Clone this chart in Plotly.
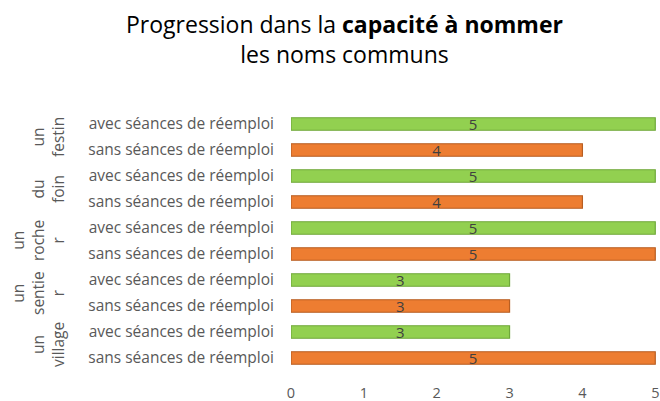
import plotly.graph_objects as go

groups = ["un<br>festin", "du<br>foin", "un<br>roche<br>r", "un<br>sentie<br>r", "un<br>village"]
series_names = ["avec séances de réemploi", "sans séances de réemploi"]
avec = [5, 5, 5, 3, 3]
sans = [4, 4, 5, 3, 5]
x_ticks = [0, 1, 2, 3, 4, 5]

green = "#92D050"
green_dark = "#6FA83A"
orange = "#ED7D31"
orange_dark = "#B85E22"
gray = "#595959"
font_family = "Open Sans"

W, H = 660, 401
ML, MR, MT, MB = 291, 4, 111, 30
PW, PH = W - ML - MR, H - MT - MB

n = len(groups)
pos_avec = [2 * i for i in range(n)]
pos_sans = [2 * i + 1 for i in range(n)]

fig = go.Figure()
for pos, vals, name, col, dark in [
    (pos_avec, avec, series_names[0], green, green_dark),
    (pos_sans, sans, series_names[1], orange, orange_dark),
]:
    fig.add_trace(go.Bar(
        y=pos, x=vals, orientation="h", name=name,
        marker=dict(color=col, line=dict(color=dark, width=1.2)),
        width=0.48, text=vals, textposition="inside", insidetextanchor="middle",
        textangle=0, constraintext="none", cliponaxis=False,
        textfont=dict(color="#404040", size=15, family=font_family),
        hoverinfo="x",
    ))

tickvals = []
ticktext = []
for i in range(n):
    tickvals += [pos_avec[i], pos_sans[i]]
    ticktext += series_names

for i, g in enumerate(groups):
    fig.add_annotation(
        x=(71 - ML) / PW, xref="paper", xanchor="right",
        y=(pos_avec[i] + pos_sans[i]) / 2, yref="y", yanchor="middle",
        text=g, textangle=-90, showarrow=False,
        font=dict(size=15.5, color=gray, family=font_family),
    )

fig.add_annotation(
    text="Progression dans la <b>capacité à nommer</b><br>les noms communs",
    x=(344 - ML) / PW, xref="paper", xanchor="center",
    y=(H - 39 - MB) / PH, yref="paper", yanchor="middle",
    showarrow=False, align="center",
    font=dict(size=23, color="black", family=font_family),
)

fig.update_layout(
    width=W, height=H,
    margin=dict(l=ML, r=MR, t=MT, b=MB, autoexpand=False),
    paper_bgcolor="white", plot_bgcolor="white",
    showlegend=False, barmode="overlay",
    font=dict(family=font_family, color=gray),
    uniformtext=dict(minsize=8, mode="show"),
)
fig.update_xaxes(
    range=[0, 5.01], tickvals=x_ticks, showgrid=False, zeroline=False,
    showline=False, ticks="outside", ticklen=9, tickcolor="rgba(0,0,0,0)",
    tickfont=dict(size=14.5, color=gray, family=font_family),
)
fig.update_yaxes(
    range=[9.5, -0.5], tickvals=tickvals, ticktext=ticktext,
    showgrid=False, zeroline=False, showline=False,
    ticks="outside", ticklen=13, tickcolor="rgba(0,0,0,0)",
    tickfont=dict(size=15.5, color=gray, family=font_family),
)

fig.write_html(
    "out.html",
    config={"displayModeBar": False},
    post_script="document.body.style.margin='0';document.body.style.overflow='hidden';",
)
